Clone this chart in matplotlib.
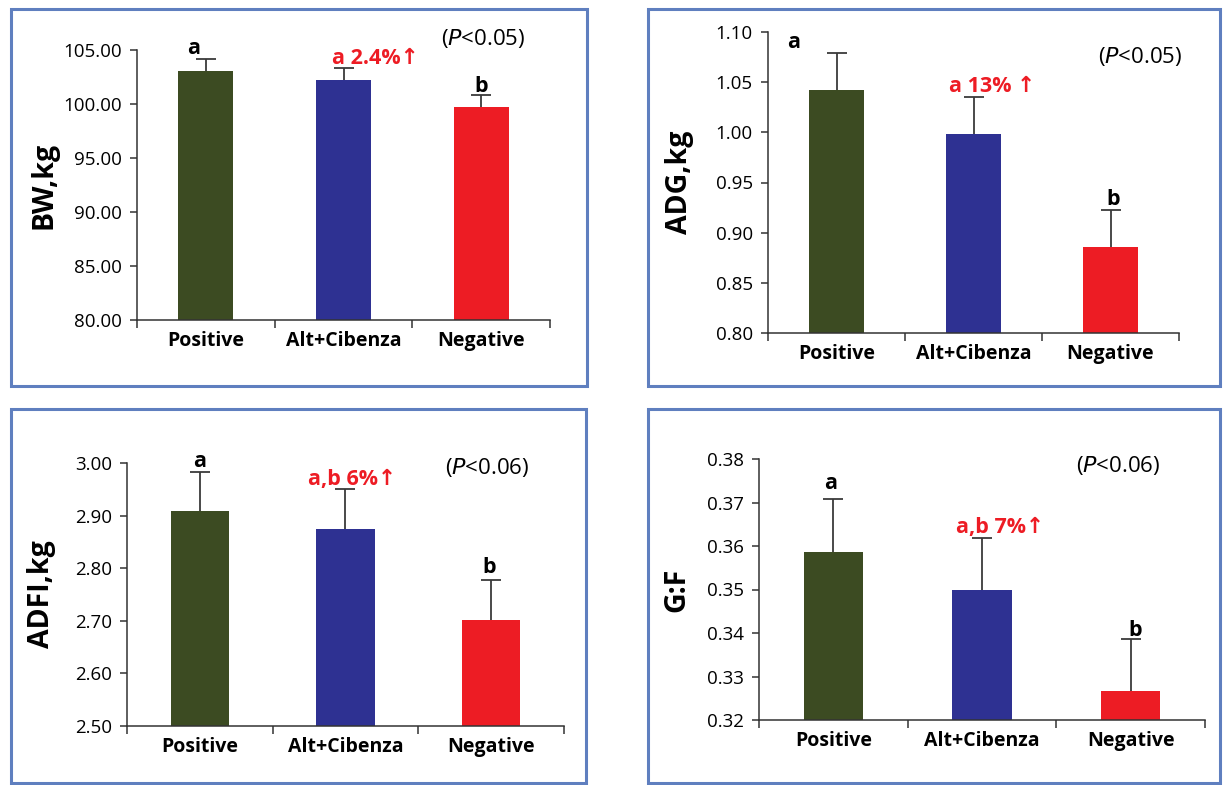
import matplotlib.pyplot as plt
import matplotlib.patches as patches
import matplotlib.ticker as ticker
import numpy as np

plt.rcParams['font.family'] = ['Open Sans', 'DejaVu Sans']

# data
groups = ['Positive', 'Alt+Cibenza', 'Negative']
bar_colors = ['#3c4b22', '#2e3192', '#ed1c24']

bw_mean = [103.1, 102.2, 99.75]
bw_err = [1.1, 1.1, 1.05]
adg_mean = [1.042, 0.998, 0.886]
adg_err = [0.037, 0.037, 0.037]
adfi_mean = [2.908, 2.875, 2.702]
adfi_err = [0.074, 0.076, 0.076]
gf_mean = [0.3587, 0.3498, 0.3267]
gf_err = [0.0121, 0.0120, 0.0119]

W, H = 1223, 785
fig = plt.figure(figsize=(W / 100, H / 100), dpi=100)
fig.patch.set_facecolor('white')


def px_box(x0, y0, x1, y1):
    return [x0 / W, 1 - y1 / H, (x1 - x0) / W, (y1 - y0) / H]


def fx(x):
    return x / W


def fy(y):
    return 1 - y / H


# panel layout in pixels: border box, axes box, y range, ticks, texts
panels = [
    dict(box=(11, 9, 587, 386), ax=(137, 50, 550, 320), mean=bw_mean, err=bw_err,
         ylim=(80, 105), step=5, ylabel='BW,kg', ylab_x=44,
         letters=[('a', 194, 54), ('b', 481, 92)], red=('a 2.4%\u2191', 375, 64),
         ptxt=('0.05', 483, 45)),
    dict(box=(648, 9, 1220, 386), ax=(768, 32, 1179, 333), mean=adg_mean, err=adg_err,
         ylim=(0.80, 1.10), step=0.05, ylabel='ADG,kg', ylab_x=679,
         letters=[('a', 794, 48), ('b', 1113, 205)], red=('a 13% \u2191', 992, 92),
         ptxt=('0.05', 1140, 63)),
    dict(box=(11, 409, 586, 783), ax=(127, 463, 564, 726), mean=adfi_mean, err=adfi_err,
         ylim=(2.50, 3.00), step=0.1, ylabel='ADFI,kg', ylab_x=42,
         letters=[('a', 200, 467), ('b', 489, 573)], red=('a,b 6%\u2191', 352, 485),
         ptxt=('0.06', 487, 474)),
    dict(box=(648, 409, 1220, 783), ax=(759, 459, 1205, 720), mean=gf_mean, err=gf_err,
         ylim=(0.32, 0.38), step=0.01, ylabel='G:F', ylab_x=677,
         letters=[('a', 831, 489), ('b', 1135, 636)], red=('a,b 7%\u2191', 1000, 533),
         ptxt=('0.06', 1118, 472)),
]

x = np.arange(len(groups))

for p in panels:
    bx0, by0, bx1, by1 = p['box']
    fig.patches.append(patches.Rectangle((fx(bx0), fy(by1)), (bx1 - bx0) / W, (by1 - by0) / H,
                                         transform=fig.transFigure, fill=False,
                                         edgecolor='#5f7fbf', linewidth=2.2))
    ax = fig.add_axes(px_box(*p['ax']))
    ax.bar(x, p['mean'], width=0.4, color=bar_colors, zorder=2)
    # upper error bars only, drop the cap sitting on the bar top
    eb = ax.errorbar(x, p['mean'], yerr=[np.zeros(3), p['err']], fmt='none',
                     ecolor='#3a3a3a', elinewidth=1.3, capsize=7, capthick=1.3, zorder=3)
    eb[1][0].set_visible(False)
    lo, hi = p['ylim']
    ax.set_ylim(lo, hi)
    ax.set_xlim(-0.5, 2.5)
    ax.set_yticks(np.arange(lo, hi + p['step'] / 2, p['step']))
    ax.yaxis.set_major_formatter(ticker.FormatStrFormatter('%.2f'))
    ax.set_xticks(x)
    ax.set_xticklabels(groups, fontweight='bold', fontsize=14)
    ax.set_xticks([-0.5, 0.5, 1.5, 2.5], minor=True)
    ax.tick_params(axis='x', which='major', length=0, pad=8)
    ax.tick_params(axis='x', which='minor', length=6, width=1.1, color='#333333')
    ax.tick_params(axis='y', length=5, width=1.1, color='#333333', labelsize=13.5, pad=6)
    for s in ['top', 'right']:
        ax.spines[s].set_visible(False)
    for s in ['left', 'bottom']:
        ax.spines[s].set_color('#333333')
        ax.spines[s].set_linewidth(1.1)

    ay0, ay1 = p['ax'][1], p['ax'][3]
    fig.text(fx(p['ylab_x']), fy((ay0 + ay1) / 2), p['ylabel'], rotation=90,
             ha='center', va='center', fontsize=20.5, fontweight='bold')
    for lt, lx, ly in p['letters']:
        fig.text(fx(lx), fy(ly), lt, ha='center', va='baseline', fontsize=15.5, fontweight='bold')
    rt, rx, ry = p['red']
    fig.text(fx(rx), fy(ry), rt, ha='center', va='baseline', fontsize=15.5,
             fontweight='bold', color='#ed1c24')
    pv, px_, py_ = p['ptxt']
    fig.text(fx(px_), fy(py_), '($\\it{P}$<' + pv + ')', ha='center', va='baseline', fontsize=16)

fig.savefig('out.png', dpi=100)
